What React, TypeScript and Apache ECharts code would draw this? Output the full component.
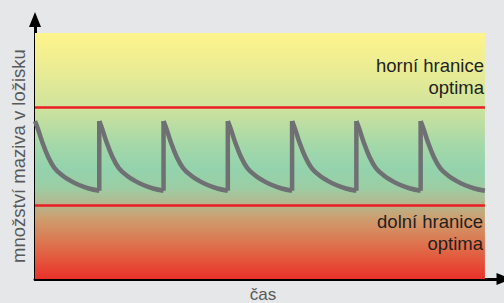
import React, { useEffect, useRef } from 'react';
import * as echarts from 'echarts';

// ---- data ----
const cycleCount = 7; // number of lubrication cycles shown
// one cycle of the lubricant level (time as a fraction of the cycle, level in axis units 0..10)
const cycleTimes = [0, 0.046, 0.107, 0.205, 0.304, 0.426, 0.548, 0.685, 0.837, 1.0];
const cycleLevels = [6.42, 6.1, 5.61, 4.96, 4.51, 4.21, 4.0, 3.82, 3.68, 3.59];
const upperLimit = 7;
const lowerLimit = 3;
const bandTop = 10;
const yTitle = 'množství maziva v ložisku';
const xTitle = 'čas';
const upperLabel = 'horní hranice\noptima';
const lowerLabel = 'dolní hranice\noptima';

const X_MAX = 7.297;
const Y_MAX = 10.549;
const FONT = '18.5px "Liberation Sans", Arial, sans-serif';

export default function App() {
  const ref = useRef<HTMLDivElement>(null);

  useEffect(() => {
    if (!ref.current) return;
    const chart = echarts.init(ref.current, undefined, { renderer: 'svg' });

    // decay curves, broken between cycles
    const decay: any[] = [];
    for (let k = 0; k < cycleCount; k++) {
      for (let i = 0; i < cycleTimes.length; i++) {
        decay.push([k + cycleTimes[i], cycleLevels[i]]);
      }
      decay.push([k + 1, '-']);
    }
    // refills: vertical jumps at cycle boundaries
    const refill: any[] = [];
    const endLevel = cycleLevels[cycleLevels.length - 1];
    for (let k = 1; k < cycleCount; k++) {
      refill.push([k, endLevel]);
      refill.push([k, cycleLevels[0]]);
      refill.push([k, '-']);
    }

    const gradient = {
      type: 'linear',
      x: 0, y: 0, x2: 0, y2: 1,
      colorStops: [
        { offset: 0, color: '#fef48c' },
        { offset: 0.15, color: '#eaec94' },
        { offset: 0.3, color: '#d0e39d' },
        { offset: 0.45, color: '#a6d8a8' },
        { offset: 0.55, color: '#93d3ad' },
        { offset: 0.63, color: '#9ccda4' },
        { offset: 0.7, color: '#b7b58c' },
        { offset: 0.76, color: '#cf9b6c' },
        { offset: 0.85, color: '#dd7650' },
        { offset: 0.93, color: '#e4523a' },
        { offset: 1, color: '#e9302a' },
      ],
    };

    const axisCommon = {
      type: 'value',
      min: 0,
      axisTick: { show: false },
      axisLabel: { show: false },
      splitLine: { show: false },
      axisLine: {
        show: true,
        symbol: ['none', 'triangle'],
        symbolSize: [12, 15],
        lineStyle: { color: '#000000', width: 3 },
      },
    };

    chart.setOption({
      animation: false,
      backgroundColor: '#e6e7e8',
      grid: { left: 35, top: 19.5, right: -10.5, bottom: 24 },
      xAxis: { ...axisCommon, max: X_MAX },
      yAxis: { ...axisCommon, max: Y_MAX },
      graphic: [
        {
          type: 'text',
          x: 18, y: 156,
          rotation: Math.PI / 2,
          style: { text: yTitle, font: FONT, fill: '#58595b', align: 'center', verticalAlign: 'middle' },
          z: 10,
        },
        {
          type: 'text',
          x: 263, y: 294.5,
          style: { text: xTitle, font: '17px "Liberation Sans", Arial, sans-serif', lineHeight: 17, fill: '#58595b', align: 'center', verticalAlign: 'middle' },
          z: 10,
        },
        {
          type: 'text',
          x: 484, y: 54.5,
          style: { text: upperLabel, font: FONT, fill: '#231f20', align: 'right', verticalAlign: 'top', lineHeight: 22 },
          z: 10,
        },
        {
          type: 'text',
          x: 483, y: 210.5,
          style: { text: lowerLabel, font: FONT, fill: '#231f20', align: 'right', verticalAlign: 'top', lineHeight: 22 },
          z: 10,
        },
      ],
      series: [
        {
          type: 'line',
          name: 'band',
          data: [],
          z: 1,
          silent: true,
          markArea: {
            silent: true,
            itemStyle: { color: gradient as any, borderWidth: 0 },
            data: [[{ coord: [0, 0] }, { coord: [cycleCount, bandTop] }]],
          },
          markLine: {
            silent: true,
            symbol: ['none', 'none'],
            label: { show: false },
            lineStyle: { color: '#ed1c24', width: 2.5, type: 'solid' },
            data: [
              [{ coord: [0, upperLimit] }, { coord: [cycleCount, upperLimit] }],
              [{ coord: [0, lowerLimit] }, { coord: [cycleCount, lowerLimit] }],
            ],
          },
        },
        {
          type: 'line',
          name: 'level',
          data: decay,
          z: 3,
          smooth: 0.4,
          showSymbol: false,
          symbol: 'none',
          connectNulls: false,
          lineStyle: { color: '#6f7073', width: 4.5, cap: 'butt' },
        },
        {
          type: 'line',
          name: 'refill',
          data: refill,
          z: 3,
          smooth: false,
          showSymbol: false,
          symbol: 'none',
          connectNulls: false,
          lineStyle: { color: '#6f7073', width: 4.5, cap: 'butt' },
        },
      ],
    });

    return () => chart.dispose();
  }, []);

  return (
    <div
      ref={ref}
      style={{ position: 'absolute', left: 0, top: 0, width: 504, height: 303, background: '#e6e7e8' }}
    />
  );
}
